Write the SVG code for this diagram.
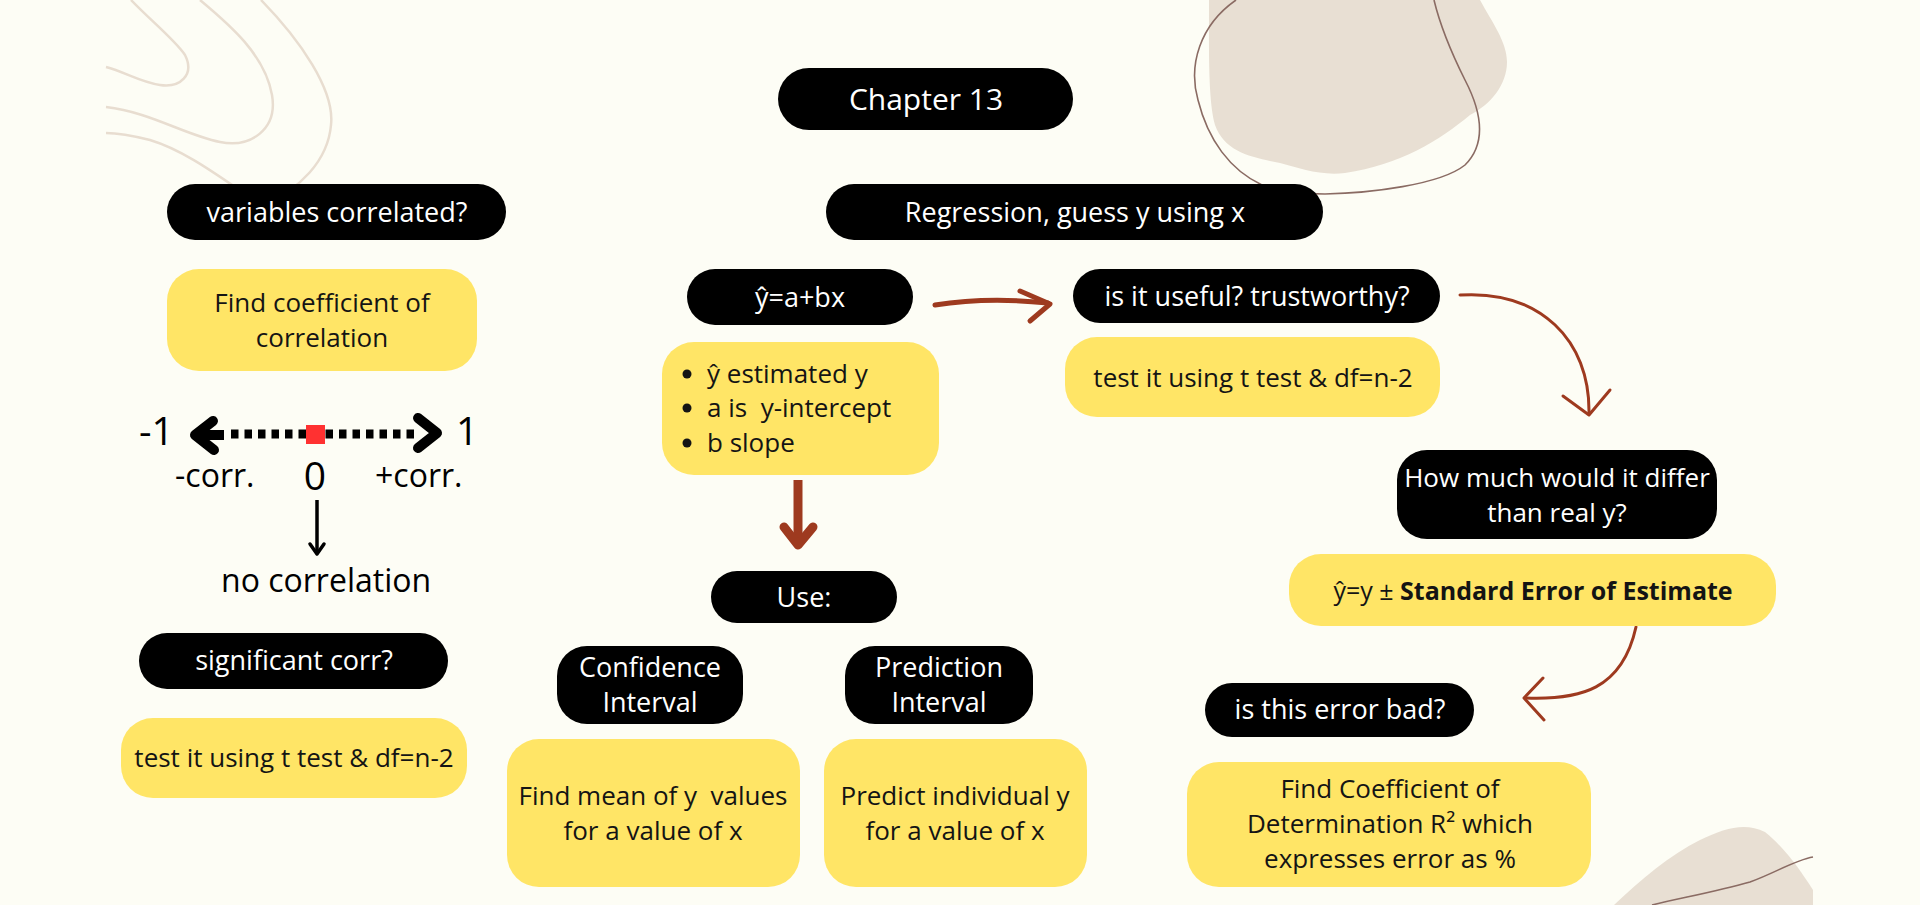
<svg xmlns="http://www.w3.org/2000/svg" width="1920" height="905" viewBox="0 0 1920 905">
<style>
.blk{fill:#000}
.yel{fill:#FFE566}
.lt{font-family:"Open Sans","Noto Sans",sans-serif;font-size:27px;fill:#fff;text-anchor:middle}
.dt{font-family:"Open Sans","Noto Sans",sans-serif;font-size:26px;fill:#141414;text-anchor:middle}
.st{font-family:"Open Sans","Noto Sans",sans-serif;font-size:26px;fill:#141414}
.nl{font-family:"Open Sans","Noto Sans",sans-serif;font-size:32px;fill:#000}
.num{font-family:"Open Sans","Noto Sans",sans-serif;font-size:39px;fill:#000}
.rust{fill:none;stroke:#9E3A1F;stroke-linecap:round;stroke-linejoin:round}
.deco{fill:none;stroke:#E8DDD0;stroke-width:2.5}
.outl{fill:none;stroke:#8A6B63;stroke-width:1.6}
</style>
<rect width="1920" height="905" fill="#FDFDF5"/>
<g id="decorations">
<path class="deco" d="M131,0 C150,20 175,40 185,55 C195,75 180,88 160,85 C140,82 125,72 106,67"/>
<path class="deco" d="M200,0 C230,25 265,55 272,95 C278,130 250,148 220,142 C185,135 150,112 106,107"/>
<path class="deco" d="M261,0 C300,40 335,90 331,125 C328,160 300,190 262,205 C230,185 190,152 150,140 C130,135 115,133 106,133"/>
<path fill="#E8DFD3" d="M1209,0 L1480,0 C1492,22 1507,42 1507,62 C1507,85 1490,105 1470,115 C1440,140 1400,165 1345,173 C1320,176 1300,168 1280,163 C1250,157 1225,152 1215,125 C1208,100 1209,50 1209,0 Z"/>
<path class="outl" d="M1236,0 C1200,25 1188,65 1198,100 C1208,140 1230,170 1262,185 C1280,192 1300,194 1325,194 C1370,193 1440,185 1465,165 C1490,140 1478,105 1465,80 C1450,50 1440,25 1434,0"/>
<path fill="#E8DFD3" d="M1614,905 C1640,880 1670,855 1700,840 C1725,828 1745,822 1765,832 C1785,848 1800,870 1813,890 L1813,905 Z"/>
<path class="outl" d="M1652,905 C1680,898 1715,892 1750,882 C1775,873 1795,860 1813,857"/>
</g>
<g id="connectors">
<path class="rust" stroke-width="5" d="M935,305 C960,301 1000,298 1048,303"/>
<path class="rust" stroke-width="5" d="M1020,291 L1050,304 L1030,321"/>
<path class="rust" stroke-width="3" d="M1460,295 C1540,290 1590,340 1589,413"/>
<path class="rust" stroke-width="3" d="M1563,396 L1589,415 L1610,390"/>
<path class="rust" stroke-width="3" d="M1636,627 C1622,690 1580,700 1526,698"/>
<path class="rust" stroke-width="3" d="M1543,678 L1524,698 L1544,720"/>
<path fill="none" stroke="#9E3A1F" stroke-width="9" d="M798,480 L798,542"/>
<path class="rust" stroke-width="9" d="M784,527 L798,545 L813,527"/>
<path fill="none" stroke="#000" stroke-width="3.5" d="M317,500 L317,553"/>
<path fill="none" stroke="#000" stroke-width="3.5" stroke-linecap="round" stroke-linejoin="round" d="M310,544 L317,554 L324,544"/>
</g>
<g id="number-line">
<path fill="none" stroke="#000" stroke-width="10" stroke-linecap="round" stroke-linejoin="round" d="M213,421 L195,435 L214,450"/>
<path fill="none" stroke="#000" stroke-width="10" d="M198,435 L224,435"/>
<path fill="none" stroke="#000" stroke-width="9" stroke-dasharray="7.5 6" d="M231,434 L418,434"/>
<path fill="none" stroke="#000" stroke-width="10" stroke-linecap="round" stroke-linejoin="round" d="M418,418 L437,433 L418,448"/>
<rect x="306" y="425" width="19" height="19" fill="#FF3131"/>
<text class="num" x="139" y="445">-1</text>
<text class="num" x="456" y="445">1</text>
<text class="num" x="315" y="490" text-anchor="middle">0</text>
<text class="nl" x="175" y="487">-corr.</text>
<text class="nl" x="375" y="487">+corr.</text>
<text class="nl" x="221" y="592">no correlation</text>
</g>
<g id="chapter">
<rect class="blk" x="778" y="68" width="295" height="62" rx="31"/>
<text class="lt" x="926" y="110" style="font-size:30px">Chapter 13</text>
</g>
<g id="regression">
<rect class="blk" x="826" y="184" width="497" height="56" rx="28"/>
<text class="lt" x="1075" y="222">Regression, guess y using x</text>
</g>
<g id="variables-correlated">
<rect class="blk" x="167" y="184" width="339" height="56" rx="28"/>
<text class="lt" x="337" y="222">variables correlated?</text>
</g>
<g id="find-coefficient">
<rect class="yel" x="167" y="269" width="310" height="102" rx="32"/>
<text class="dt" x="322" y="312">Find coefficient of</text>
<text class="dt" x="322" y="347">correlation</text>
</g>
<g id="equation">
<rect class="blk" x="687" y="269" width="226" height="56" rx="28"/>
<text class="lt" x="800" y="307">ŷ=a+bx</text>
</g>
<g id="useful">
<rect class="blk" x="1073" y="269" width="367" height="54" rx="27"/>
<text class="lt" x="1257" y="306">is it useful? trustworthy?</text>
</g>
<g id="test-right">
<rect class="yel" x="1065" y="337" width="375" height="80" rx="32"/>
<text class="dt" x="1253" y="387">test it using t test &amp; df=n-2</text>
</g>
<g id="bullets">
<rect class="yel" x="662" y="342" width="277" height="133" rx="32"/>
<circle cx="687" cy="374" r="4.5" fill="#141414"/>
<circle cx="687" cy="408" r="4.5" fill="#141414"/>
<circle cx="687" cy="443" r="4.5" fill="#141414"/>
<text class="st" x="707" y="383">ŷ estimated y</text>
<text class="st" x="707" y="417" xml:space="preserve">a is  y-intercept</text>
<text class="st" x="707" y="452">b slope</text>
</g>
<g id="use">
<rect class="blk" x="711" y="571" width="186" height="52" rx="26"/>
<text class="lt" x="804" y="607">Use:</text>
</g>
<g id="confidence">
<rect class="blk" x="557" y="646" width="186" height="78" rx="30"/>
<text class="lt" x="650" y="677">Confidence</text>
<text class="lt" x="650" y="712">Interval</text>
</g>
<g id="prediction">
<rect class="blk" x="845" y="646" width="188" height="78" rx="30"/>
<text class="lt" x="939" y="677">Prediction</text>
<text class="lt" x="939" y="712">Interval</text>
</g>
<g id="find-mean">
<rect class="yel" x="507" y="739" width="293" height="148" rx="32"/>
<text class="dt" x="653" y="805" xml:space="preserve">Find mean of y  values</text>
<text class="dt" x="653" y="840">for a value of x</text>
</g>
<g id="predict-individual">
<rect class="yel" x="824" y="739" width="263" height="148" rx="32"/>
<text class="dt" x="955" y="805">Predict individual y</text>
<text class="dt" x="955" y="840">for a value of x</text>
</g>
<g id="significant">
<rect class="blk" x="139" y="633" width="309" height="56" rx="28"/>
<text class="lt" x="294" y="670">significant corr?</text>
</g>
<g id="test-left">
<rect class="yel" x="121" y="718" width="346" height="80" rx="32"/>
<text class="dt" x="294" y="767">test it using t test &amp; df=n-2</text>
</g>
<g id="how-much">
<rect class="blk" x="1397" y="450" width="320" height="89" rx="30"/>
<text class="lt" x="1557" y="487" style="font-size:26px">How much would it differ</text>
<text class="lt" x="1557" y="522" style="font-size:26px">than real y?</text>
</g>
<g id="standard-error">
<rect class="yel" x="1289" y="554" width="487" height="72" rx="32"/>
<text class="dt" x="1533" y="600" style="font-size:25px">ŷ=y ± <tspan font-weight="bold">Standard Error of Estimate</tspan></text>
</g>
<g id="error-bad">
<rect class="blk" x="1205" y="683" width="269" height="54" rx="27"/>
<text class="lt" x="1340" y="719">is this error bad?</text>
</g>
<g id="determination">
<rect class="yel" x="1187" y="762" width="404" height="125" rx="32"/>
<text class="dt" x="1390" y="798">Find Coefficient of</text>
<text class="dt" x="1390" y="833">Determination R² which</text>
<text class="dt" x="1390" y="868">expresses error as %</text>
</g>
</svg>
